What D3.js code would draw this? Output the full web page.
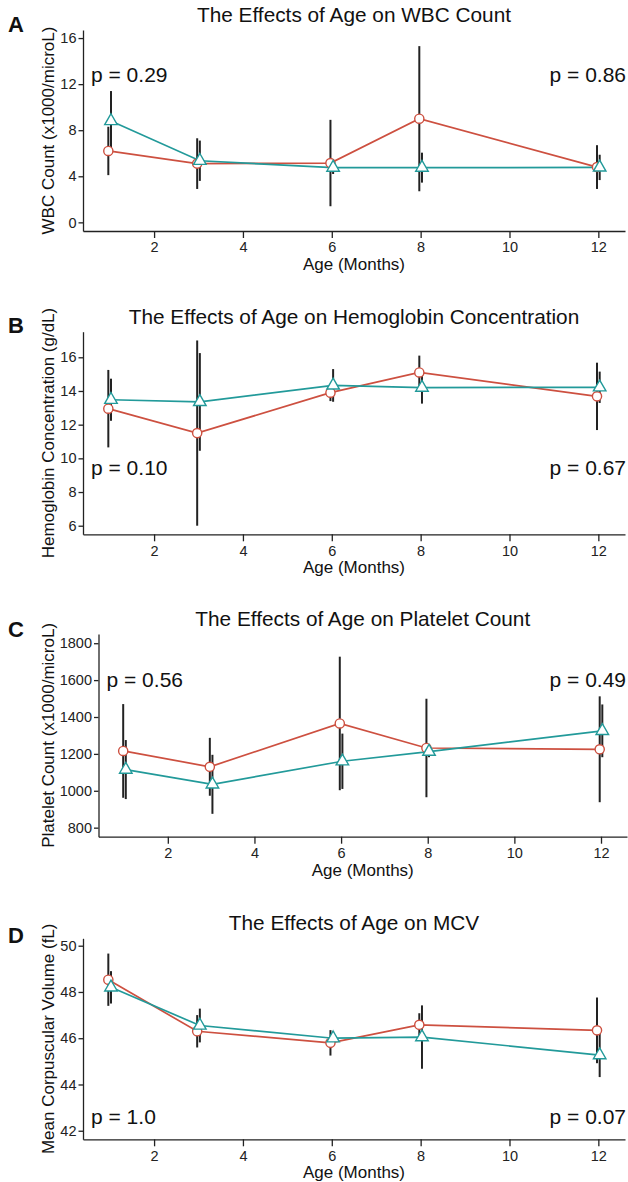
<!DOCTYPE html>
<html>
<head>
<meta charset="utf-8">
<script src="https://cdn.jsdelivr.net/npm/d3@7"></script>
<style>
body { margin: 0; background: #fff; }
text { font-family: "Liberation Sans", Arial, sans-serif; fill: #111; }
.tick text { font-family: "Liberation Sans Narrow", "Arial Narrow", "Liberation Sans", sans-serif; font-size: 14.5px; fill: #222; }
.axis path, .axis line { stroke: #222; stroke-width: 1.3px; }
</style>
</head>
<body>
<div id="chart"></div>
<script>
// x values (age in months) and tick labels
var months = [1, 3, 6, 8, 12];
var xTicks = [2, 4, 6, 8, 10, 12];

// WBC count, circles (red) and triangles (teal), mean and error
var wbcCircleMean = [6.2, 5.1, 5.15, 9.0, 4.8];
var wbcCircleErr = [2.1, 2.2, 3.75, 6.3, 1.9];
var wbcTriangleMean = [8.8, 5.35, 4.75, 4.75, 4.77];
var wbcTriangleErr = [2.6, 1.75, 0.55, 1.3, 1.1];
var wbcTicks = [0, 4, 8, 12, 16];

// Hemoglobin concentration
var hgbCircleMean = [12.95, 11.5, 13.9, 15.1, 13.68];
var hgbCircleErr = [2.3, 5.5, 0.5, 1.0, 2.0];
var hgbTriangleMean = [13.48, 13.35, 14.33, 14.2, 14.22];
var hgbTriangleErr = [1.25, 2.9, 0.97, 0.95, 0.93];
var hgbTicks = [6, 8, 10, 12, 14, 16];

// Platelet count
var pltCircleMean = [1216, 1130, 1365, 1232, 1225];
var pltCircleErr = [254, 157, 362, 267, 287];
var pltTriangleMean = [1115, 1035, 1160, 1212, 1325];
var pltTriangleErr = [160, 160, 150, 30, 143];
var pltTicks = [800, 1000, 1200, 1400, 1600, 1800];

// MCV
var mcvCircleMean = [48.53, 46.3, 45.8, 46.58, 46.34];
var mcvCircleErr = [1.13, 0.7, 0.55, 0.5, 1.42];
var mcvTriangleMean = [48.2, 46.55, 46.0, 46.05, 45.27];
var mcvTriangleErr = [0.7, 0.73, 0.3, 1.37, 0.95];
var mcvTicks = [42, 44, 46, 48, 50];

var redColor = "#cd5040";
var tealColor = "#229a9a";
var dodge = 0.03;

var svg = d3.select("#chart")
    .append("svg")
    .attr("width", 628)
    .attr("height", 1182);

// build the rows for one series
function makeRows(means, errs) {
    return months.map(function(m, i) {
        return { month: m, mean: means[i], err: errs[i] };
    });
}

var panels = [
    { letter: "A", title: "The Effects of Age on WBC Count", yLabel: "WBC Count (x1000/microL)",
      top: 30, bottom: 231, left: 83, right: 625, letterY: 32, yDomain: [-0.75, 16.7], yTicks: wbcTicks,
      circle: makeRows(wbcCircleMean, wbcCircleErr), triangle: makeRows(wbcTriangleMean, wbcTriangleErr),
      pLeft: "p = 0.29", pRight: "p = 0.86", pValue: 12.2 },
    { letter: "B", title: "The Effects of Age on Hemoglobin Concentration", yLabel: "Hemoglobin Concentration (g/dL)",
      top: 331.7, bottom: 534.3, left: 83, right: 625, letterY: 333, yDomain: [5.49, 17.52], yTicks: hgbTicks,
      circle: makeRows(hgbCircleMean, hgbCircleErr), triangle: makeRows(hgbTriangleMean, hgbTriangleErr),
      pLeft: "p = 0.10", pRight: "p = 0.67", pValue: 9.0 },
    { letter: "C", title: "The Effects of Age on Platelet Count", yLabel: "Platelet Count (x1000/microL)",
      top: 634, bottom: 836.7, left: 98.5, right: 627, letterY: 637, yDomain: [751, 1850], yTicks: pltTicks,
      circle: makeRows(pltCircleMean, pltCircleErr), triangle: makeRows(pltTriangleMean, pltTriangleErr),
      pLeft: "p = 0.56", pRight: "p = 0.49", pValue: 1560 },
    { letter: "D", title: "The Effects of Age on MCV", yLabel: "Mean Corpuscular Volume (fL)",
      top: 938.3, bottom: 1139.3, left: 83, right: 625, letterY: 943, yDomain: [41.63, 50.32], yTicks: mcvTicks,
      circle: makeRows(mcvCircleMean, mcvCircleErr), triangle: makeRows(mcvTriangleMean, mcvTriangleErr),
      pLeft: "p = 1.0", pRight: "p = 0.07", pValue: 42.3 }
];

function drawPanel(p) {
    var x = d3.scaleLinear().domain([0.4, 12.6]).range([p.left, p.right]);
    var y = d3.scaleLinear().domain(p.yDomain).range([p.bottom, p.top]);
    var g = svg.append("g");

    // axes
    g.append("g")
        .attr("class", "axis")
        .attr("transform", `translate(0, ${p.bottom})`)
        .call(d3.axisBottom(x).tickValues(xTicks).tickSize(7).tickSizeOuter(0).tickPadding(4));

    g.append("g")
        .attr("class", "axis")
        .attr("transform", `translate(${p.left}, 0)`)
        .call(d3.axisLeft(y).tickValues(p.yTicks).tickFormat(d3.format("d")).tickSize(4.5).tickSizeOuter(0).tickPadding(2));

    // titles
    g.append("text")
        .attr("x", (p.left + p.right) / 2)
        .attr("y", p.top - 8)
        .attr("text-anchor", "middle")
        .style("font-size", "20.8px")
        .text(p.title);

    g.append("text")
        .attr("x", 8)
        .attr("y", p.letterY)
        .style("font-size", "22px")
        .style("font-weight", "bold")
        .text(p.letter);

    g.append("text")
        .attr("x", (p.left + p.right) / 2)
        .attr("y", p.bottom + 39)
        .attr("text-anchor", "middle")
        .style("font-size", "17px")
        .text("Age (Months)");

    g.append("text")
        .attr("transform", `translate(54, ${(p.top + p.bottom) / 2}) rotate(-90)`)
        .attr("text-anchor", "middle")
        .style("font-size", "17px")
        .text(p.yLabel);

    // p values
    g.append("text")
        .attr("x", p.left + 8)
        .attr("y", y(p.pValue))
        .style("font-size", "21px")
        .text(p.pLeft);

    g.append("text")
        .attr("x", 626)
        .attr("y", y(p.pValue))
        .attr("text-anchor", "end")
        .style("font-size", "21px")
        .text(p.pRight);

    var line = d3.line()
        .x(d => x(d.month))
        .y(d => y(d.mean));

    // lines
    g.append("path")
        .datum(p.circle)
        .attr("fill", "none")
        .attr("stroke", redColor)
        .attr("stroke-width", 1.7)
        .attr("d", line.x(d => x(d.month - dodge)));

    g.append("path")
        .datum(p.triangle)
        .attr("fill", "none")
        .attr("stroke", tealColor)
        .attr("stroke-width", 1.7)
        .attr("d", line.x(d => x(d.month + dodge)));

    // error bars
    g.selectAll(".barCircle")
        .data(p.circle)
        .enter()
        .append("line")
        .attr("x1", d => x(d.month - dodge))
        .attr("x2", d => x(d.month - dodge))
        .attr("y1", d => y(d.mean - d.err))
        .attr("y2", d => y(d.mean + d.err))
        .attr("stroke", "#222")
        .attr("stroke-width", 2);

    g.selectAll(".barTriangle")
        .data(p.triangle)
        .enter()
        .append("line")
        .attr("x1", d => x(d.month + dodge))
        .attr("x2", d => x(d.month + dodge))
        .attr("y1", d => y(d.mean - d.err))
        .attr("y2", d => y(d.mean + d.err))
        .attr("stroke", "#222")
        .attr("stroke-width", 2);

    // points
    g.selectAll(".circlePoint")
        .data(p.circle)
        .enter()
        .append("circle")
        .attr("cx", d => x(d.month - dodge))
        .attr("cy", d => y(d.mean))
        .attr("r", 4.6)
        .attr("fill", "#fff")
        .attr("stroke", redColor)
        .attr("stroke-width", 1.4);

    g.selectAll(".trianglePoint")
        .data(p.triangle)
        .enter()
        .append("path")
        .attr("transform", d => `translate(${x(d.month + dodge)}, ${y(d.mean)})`)
        .attr("d", d3.symbol().type(d3.symbolTriangle).size(68))
        .attr("fill", "#fff")
        .attr("stroke", tealColor)
        .attr("stroke-width", 1.4);
}

panels.forEach(drawPanel);
</script>
</body>
</html>
